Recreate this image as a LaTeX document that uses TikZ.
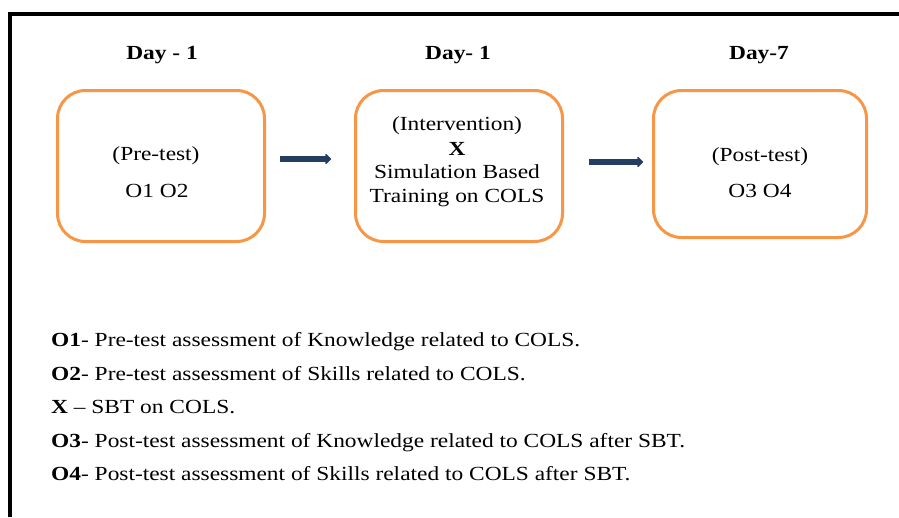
\documentclass[tikz,border=0pt]{standalone}
\usepackage{fontspec}
\setmainfont{Liberation Serif}[FakeStretch=1.17]
\usetikzlibrary{arrows.meta}
\definecolor{boxorange}{RGB}{247,150,70}
\definecolor{arrownavy}{RGB}{36,62,98}
\tikzset{
  frameline/.style={line width=4pt, black},
  phasebox/.style={draw=boxorange, line width=3pt, rounded corners=28pt,
    inner sep=0pt},
  dayhead/.style={anchor=base, inner sep=0pt, font=\fontsize{20}{24}\selectfont\bfseries},
  boxtext/.style={anchor=base, inner sep=0pt, font=\fontsize{20}{24}\selectfont},
  keyline/.style={anchor=base west, inner sep=0pt, font=\fontsize{20}{24}\selectfont},
  flowarrow/.style={arrownavy, line width=6.5pt,
    -{Triangle[length=6pt,width=12pt,round]}}
}
\begin{document}
\begin{tikzpicture}[x=1pt,y=-1pt]
\useasboundingbox (0,0) rectangle (899,517);

% frame: top rule and left rule
\coordinate (fcorner) at (10,14);
\coordinate (fright) at (899,14);
\coordinate (fbottom) at (10,517);
\draw[frameline] (fright) -- (fcorner) -- (fbottom);

% day headings
\node[dayhead] (d1) at (162,59) {Day - 1};
\node[dayhead] (d2) at (458,59) {Day- 1};
\node[dayhead] (d3) at (759,59) {Day-7};

% phase boxes
\node[phasebox, minimum width=207pt, minimum height=151pt] (b1) at (161,166) {};
\node[phasebox, minimum width=207pt, minimum height=151pt] (b2) at (459,166) {};
\node[phasebox, minimum width=213pt, minimum height=147pt] (b3) at (760,164) {};

% box contents
\node[boxtext] (t1a) at (156,160) {(Pre-test)};
\node[boxtext] (t1b) at (157,197) {O1 O2};
\node[boxtext] (t2a) at (457,130) {(Intervention)};
\node[boxtext] (t2b) at (457,155) {\textbf{X}};
\node[boxtext] (t2c) at (457,178) {Simulation Based};
\node[boxtext] (t2d) at (457,202) {Training on COLS};
\node[boxtext] (t3a) at (760,161) {(Post-test)};
\node[boxtext] (t3b) at (760,197) {O3 O4};

% flow arrows
\draw[flowarrow] ([xshift=14pt,yshift=7pt]b1.east) -- ([xshift=-23pt,yshift=7pt]b2.west);
\draw[flowarrow] ([xshift=25pt,yshift=4pt]b2.east) -- ([xshift=-9pt,yshift=2pt]b3.west);

% key
\node[keyline] (k1) at (51,346) {\textbf{O1}- Pre-test assessment of Knowledge related to COLS.};
\node[keyline] (k2) at (51,380) {\textbf{O2}- Pre-test assessment of Skills related to COLS.};
\node[keyline] (k3) at (51,413) {\textbf{X} – SBT on COLS.};
\node[keyline] (k4) at (51,447) {\textbf{O3}- Post-test assessment of Knowledge related to COLS after SBT.};
\node[keyline] (k5) at (51,480) {\textbf{O4}- Post-test assessment of Skills related to COLS after SBT.};
\end{tikzpicture}
\end{document}
